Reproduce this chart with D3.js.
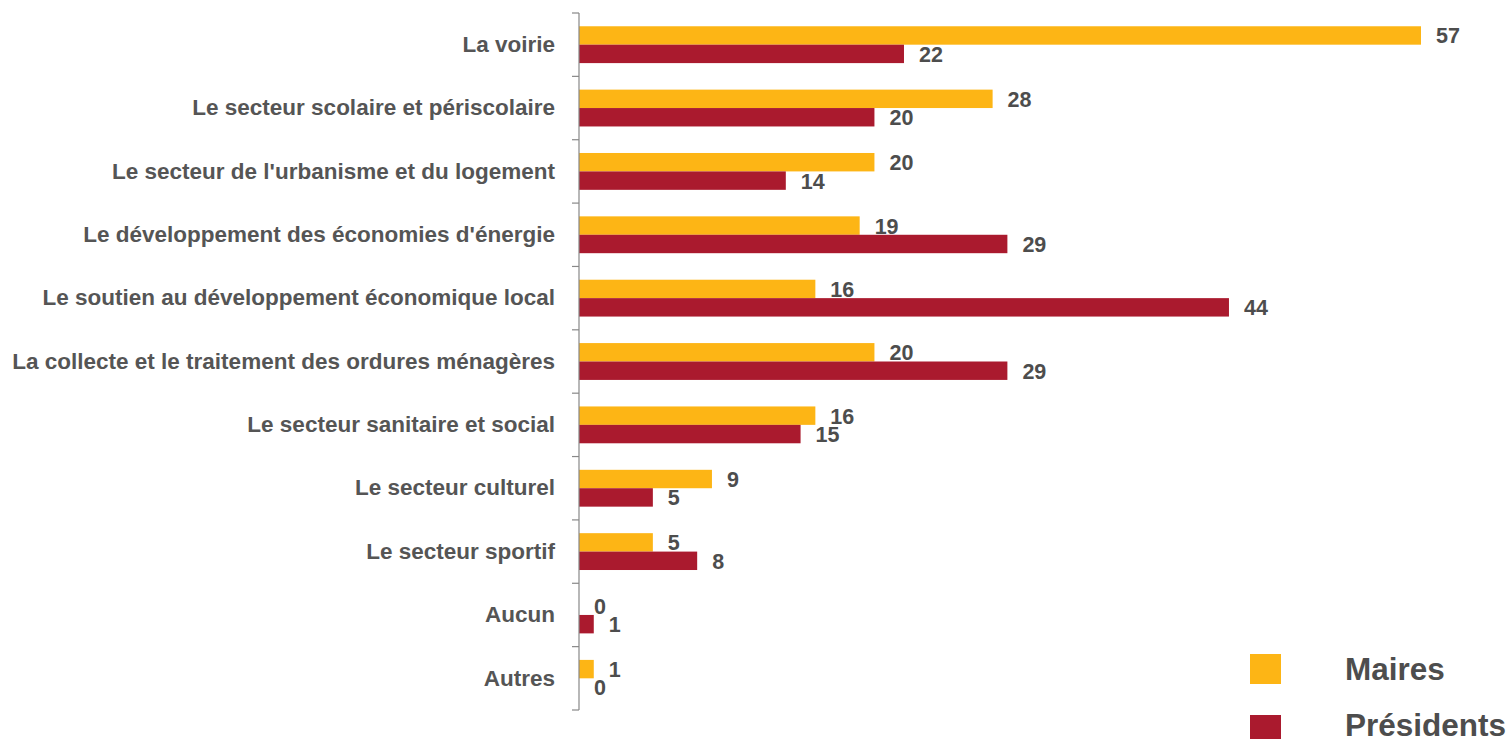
<!DOCTYPE html>
<html>
<head>
<meta charset="utf-8">
<script src="https://cdn.jsdelivr.net/npm/d3@7"></script>
<style>
  body { margin: 0; background: #fff; }
  text { font-family: "Liberation Sans", Arial, Helvetica, sans-serif; font-weight: bold; }
</style>
</head>
<body>
<svg id="chart"></svg>
<script>
'use strict';

const categories = [
  'La voirie',
  'Le secteur scolaire et périscolaire',
  "Le secteur de l'urbanisme et du logement",
  "Le développement des économies d'énergie",
  'Le soutien au développement économique local',
  'La collecte et le traitement des ordures ménagères',
  'Le secteur sanitaire et social',
  'Le secteur culturel',
  'Le secteur sportif',
  'Aucun',
  'Autres'
];
const seriesNames = ['Maires', 'Présidents'];
const maires = [57, 28, 20, 19, 16, 20, 16, 9, 5, 0, 1];
const presidents = [22, 20, 14, 29, 44, 29, 15, 5, 8, 1, 0];
const colors = ['#fdb515', '#aa1a2e'];

const width = 1510;
const height = 739;
const margin = { top: 13, left: 579, bottom: 29 };

const svg = d3.select('#chart')
  .attr('width', width)
  .attr('height', height);

const xScale = d3.scaleLinear()
  .domain([0, 57])
  .range([margin.left, 1421]);

const yScale = d3.scaleBand()
  .domain(categories)
  .range([margin.top, height - margin.bottom])
  .padding(0);

const subScale = d3.scaleBand()
  .domain(seriesNames)
  .range([0, yScale.bandwidth()])
  .paddingInner(0)
  .paddingOuter(0.72);

const rows = categories.map((c, i) => ({
  cat: c,
  values: [
    { name: seriesNames[0], value: maires[i] },
    { name: seriesNames[1], value: presidents[i] }
  ]
}));

// bars
const groups = svg.append('g')
  .selectAll('g')
  .data(rows)
  .join('g')
  .attr('transform', d => 'translate(0,' + yScale(d.cat) + ')');

groups.selectAll('rect')
  .data(d => d.values)
  .join('rect')
  .attr('x', xScale(0))
  .attr('y', d => subScale(d.name))
  .attr('width', d => xScale(d.value) - xScale(0))
  .attr('height', subScale.bandwidth())
  .attr('fill', (d, i) => colors[i]);

groups.selectAll('text')
  .data(d => d.values)
  .join('text')
  .attr('x', d => xScale(d.value) + 15)
  .attr('y', d => subScale(d.name) + subScale.bandwidth() / 2)
  .attr('dy', '0.37em')
  .attr('fill', '#4d4d4d')
  .style('font-size', '21.5px')
  .text(d => d.value);

// y axis with category labels
const yAxis = d3.axisLeft(yScale).tickSize(0).tickPadding(24);
const axisG = svg.append('g')
  .attr('transform', 'translate(' + margin.left + ',0)')
  .call(yAxis);
axisG.select('.domain').remove();
axisG.selectAll('text')
  .attr('fill', '#555')
  .style('font-size', '22.5px')
  .style('font-family', '"Liberation Sans", Arial, sans-serif')
  .style('font-weight', 'bold');

// axis line and boundary ticks
const bounds = categories.map(c => yScale(c)).concat([yScale.range()[1]]);
svg.append('line')
  .attr('x1', margin.left).attr('x2', margin.left)
  .attr('y1', yScale.range()[0]).attr('y2', yScale.range()[1])
  .attr('stroke', '#888').attr('stroke-width', 1.2);
svg.append('g')
  .selectAll('line')
  .data(bounds)
  .join('line')
  .attr('x1', margin.left - 7).attr('x2', margin.left)
  .attr('y1', d => d).attr('y2', d => d)
  .attr('stroke', '#888').attr('stroke-width', 1.2);

// legend
const legendTop = [654, 715];
const legendBase = [680, 736];
const legend = svg.append('g')
  .selectAll('g')
  .data(seriesNames)
  .join('g');

legend.append('rect')
  .attr('x', 1250)
  .attr('y', (d, i) => legendTop[i])
  .attr('width', 31)
  .attr('height', 30)
  .attr('fill', (d, i) => colors[i]);

legend.append('text')
  .attr('x', 1345)
  .attr('y', (d, i) => legendBase[i])
  .attr('fill', '#4d4d4d')
  .style('font-size', '31.5px')
  .text(d => d);
</script>
</body>
</html>
